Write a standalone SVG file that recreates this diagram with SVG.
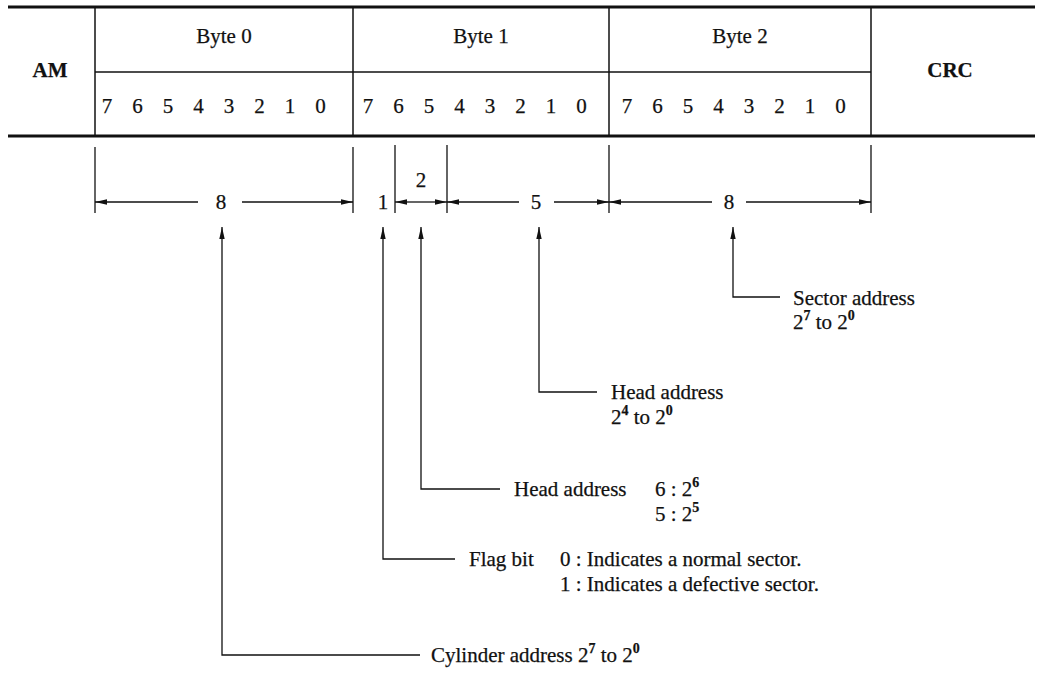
<svg xmlns="http://www.w3.org/2000/svg" width="1037" height="696" viewBox="0 0 1037 696">
<style>
text{font-family:"Liberation Serif","Times New Roman",serif;font-size:21px;fill:#111;stroke:#111;stroke-width:0.25}
.b{font-weight:bold}
.m{text-anchor:middle}
.sup{font-size:14px;font-weight:bold}
.thick{stroke:#111;stroke-width:2.8;fill:none}
.thin{stroke:#111;stroke-width:1.5;fill:none}
.ln{stroke:#111;stroke-width:1.3;fill:none}
.arr{stroke:#111;stroke-width:1.3;fill:none;marker-end:url(#ah)}
</style>
<defs>
<marker id="ah" markerUnits="userSpaceOnUse" markerWidth="13" markerHeight="7" refX="12" refY="3.5" orient="auto">
<path d="M0,0.8 L12,3.5 L0,6.2 z" fill="#111"/>
</marker>
</defs>
<rect width="1037" height="696" fill="#fff"/>

<g id="table">
<line class="thick" x1="8" y1="7" x2="1035" y2="7"/>
<line class="thick" x1="8" y1="136" x2="1035" y2="136"/>
<line class="thin" x1="95" y1="72" x2="871" y2="72"/>
<line class="thin" x1="95" y1="7" x2="95" y2="136"/>
<line class="thin" x1="353" y1="7" x2="353" y2="136"/>
<line class="thin" x1="609" y1="7" x2="609" y2="136"/>
<line class="thin" x1="871" y1="7" x2="871" y2="136"/>
</g>
<g id="am"><text class="b m" x="50" y="77">AM</text></g>
<g id="byte0">
<text class="m" x="224" y="43">Byte 0</text>
<text class="m" y="113"><tspan x="107">7</tspan><tspan x="137.5">6</tspan><tspan x="168">5</tspan><tspan x="198.5">4</tspan><tspan x="229">3</tspan><tspan x="259.5">2</tspan><tspan x="290">1</tspan><tspan x="320.5">0</tspan></text>
</g>
<g id="byte1">
<text class="m" x="481" y="43">Byte 1</text>
<text class="m" y="113"><tspan x="368">7</tspan><tspan x="398.5">6</tspan><tspan x="429">5</tspan><tspan x="459.5">4</tspan><tspan x="490">3</tspan><tspan x="520.5">2</tspan><tspan x="551">1</tspan><tspan x="581.5">0</tspan></text>
</g>
<g id="byte2">
<text class="m" x="740" y="43">Byte 2</text>
<text class="m" y="113"><tspan x="627">7</tspan><tspan x="657.5">6</tspan><tspan x="688">5</tspan><tspan x="718.5">4</tspan><tspan x="749">3</tspan><tspan x="779.5">2</tspan><tspan x="810">1</tspan><tspan x="840.5">0</tspan></text>
</g>
<g id="crc"><text class="b m" x="950" y="77">CRC</text></g>

<g id="dimensions">
<line class="ln" x1="95" y1="147" x2="95" y2="213"/>
<line class="ln" x1="353" y1="147" x2="353" y2="213"/>
<line class="ln" x1="395" y1="145" x2="395" y2="213"/>
<line class="ln" x1="447" y1="145" x2="447" y2="213"/>
<line class="ln" x1="609" y1="145" x2="609" y2="213"/>
<line class="ln" x1="871" y1="145" x2="871" y2="213"/>
<line class="arr" x1="198" y1="202" x2="95" y2="202"/>
<line class="arr" x1="242" y1="202" x2="353" y2="202"/>
<line class="arr" x1="421" y1="202" x2="395" y2="202"/>
<line class="arr" x1="421" y1="202" x2="447" y2="202"/>
<line class="arr" x1="519" y1="202" x2="447" y2="202"/>
<line class="arr" x1="554" y1="202" x2="609" y2="202"/>
<line class="arr" x1="712" y1="202" x2="609" y2="202"/>
<line class="arr" x1="746" y1="202" x2="871" y2="202"/>
<text class="m" x="221" y="209">8</text>
<text class="m" x="383" y="209">1</text>
<text class="m" x="421" y="187">2</text>
<text class="m" x="536" y="209">5</text>
<text class="m" x="729" y="209">8</text>
</g>

<g id="connectors">
<path class="arr" d="M780,297 H733 V227"/>
<path class="arr" d="M597,392 H539 V227"/>
<path class="arr" d="M500,489 H421 V227"/>
<path class="arr" d="M455,559 H383 V227"/>
<path class="arr" d="M420,655 H222 V227"/>
</g>

<g id="sector">
<text x="793" y="305">Sector address</text>
<text x="793" y="329">2<tspan class="sup" dy="-9">7</tspan><tspan dy="9"> to 2</tspan><tspan class="sup" dy="-9">0</tspan></text>
</g>
<g id="head5">
<text x="611" y="399">Head address</text>
<text x="611" y="424">2<tspan class="sup" dy="-9">4</tspan><tspan dy="9"> to 2</tspan><tspan class="sup" dy="-9">0</tspan></text>
</g>
<g id="head6">
<text x="514" y="496">Head address</text>
<text x="655" y="496">6 : 2<tspan class="sup" dy="-9">6</tspan></text>
<text x="655" y="521">5 : 2<tspan class="sup" dy="-9">5</tspan></text>
</g>
<g id="flag">
<text x="469" y="566">Flag bit</text>
<text x="560" y="566">0 : Indicates a normal sector.</text>
<text x="560" y="591">1 : Indicates a defective sector.</text>
</g>
<g id="cylinder">
<text x="431" y="662">Cylinder address 2<tspan class="sup" dy="-9">7</tspan><tspan dy="9"> to 2</tspan><tspan class="sup" dy="-9">0</tspan></text>
</g>
</svg>
